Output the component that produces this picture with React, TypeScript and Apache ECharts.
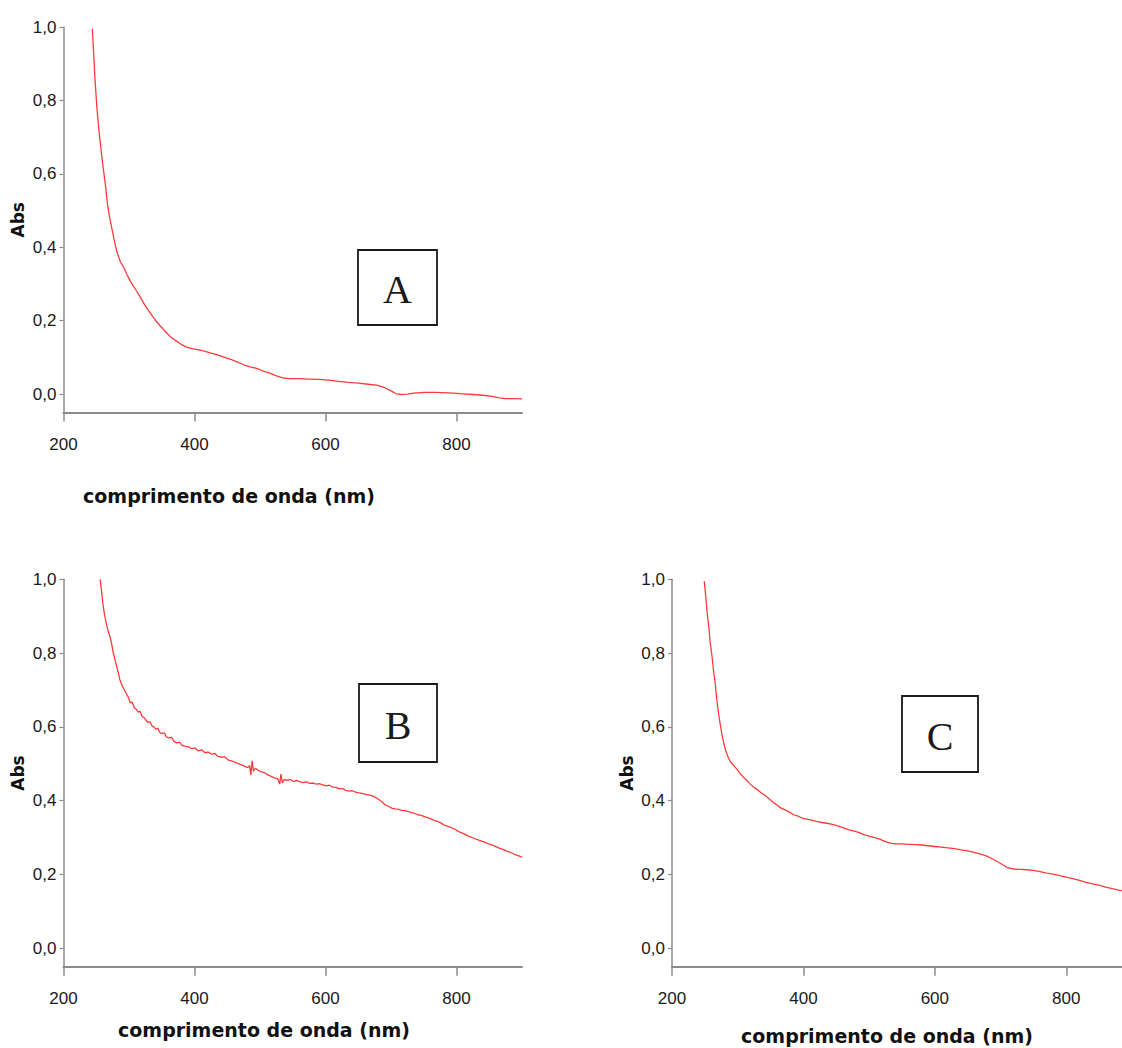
import React, { useEffect, useRef } from "react";
import * as echarts from "echarts";

// Panel A
const aWave = [244,246,248,251,254,257,260,264,267,270,274,278,282,287,292,297,303,310,317,324,332,340,348,356,364,372,380,388,396,405,415,425,435,445,455,465,475,485,495,505,515,525,535,545,560,575,590,605,620,635,650,665,680,690,700,708,716,725,735,750,765,780,795,810,825,840,855,865,875,890,900];
const aAbs = [0.995,0.93,0.86,0.78,0.72,0.67,0.625,0.57,0.52,0.485,0.45,0.415,0.385,0.36,0.345,0.325,0.305,0.285,0.265,0.243,0.222,0.202,0.185,0.17,0.155,0.145,0.135,0.128,0.124,0.121,0.117,0.112,0.107,0.101,0.095,0.088,0.08,0.074,0.07,0.063,0.057,0.05,0.044,0.042,0.042,0.041,0.04,0.038,0.035,0.032,0.03,0.027,0.024,0.018,0.009,0.001,-0.001,0.0,0.003,0.005,0.005,0.004,0.003,0.001,-0.001,-0.003,-0.006,-0.01,-0.012,-0.012,-0.013];

// Panel B
const bWave = [256,258,260,263,266,268,271,273,276,279,281,284,286,290,293,296,299,302,305,308,311,314,317,320,323,326,329,332,335,338,341,344,347,350,354,357,361,365,369,373,377,381,386,391,396,401,406,411,416,421,426,431,436,441,446,451,456,461,466,471,476,481,484,486,488,490,493,497,502,507,512,517,522,527,530,532,534,537,541,546,551,556,561,566,571,576,581,586,591,596,601,606,611,616,621,626,631,636,641,646,651,656,661,666,671,676,681,686,691,696,701,706,711,716,721,726,731,736,741,746,751,756,761,766,771,776,781,786,791,796,801,806,811,816,821,826,831,836,841,846,851,856,861,866,871,876,881,886,891,896,900];
const bAbs = [1.0,0.97,0.935,0.9,0.875,0.86,0.845,0.83,0.8,0.78,0.765,0.745,0.728,0.71,0.7,0.69,0.68,0.665,0.667,0.652,0.648,0.64,0.642,0.628,0.625,0.618,0.612,0.614,0.603,0.6,0.594,0.596,0.585,0.582,0.584,0.573,0.57,0.572,0.56,0.557,0.559,0.55,0.547,0.546,0.541,0.543,0.535,0.538,0.53,0.532,0.526,0.528,0.52,0.518,0.519,0.511,0.508,0.505,0.501,0.498,0.494,0.49,0.495,0.47,0.508,0.48,0.488,0.483,0.478,0.476,0.47,0.466,0.462,0.46,0.445,0.472,0.448,0.458,0.455,0.458,0.452,0.455,0.451,0.449,0.451,0.447,0.448,0.445,0.446,0.443,0.44,0.442,0.437,0.436,0.432,0.433,0.428,0.426,0.427,0.423,0.421,0.42,0.417,0.416,0.414,0.409,0.404,0.397,0.389,0.385,0.38,0.378,0.377,0.374,0.373,0.371,0.368,0.366,0.362,0.36,0.357,0.354,0.351,0.347,0.344,0.34,0.334,0.331,0.328,0.324,0.319,0.314,0.311,0.306,0.302,0.299,0.295,0.292,0.289,0.285,0.282,0.279,0.275,0.271,0.268,0.264,0.261,0.257,0.253,0.25,0.247];

// Panel C
const cWave = [249,251,253,256,258,261,263,266,268,271,274,277,281,285,289,294,299,304,309,314,319,324,330,336,342,348,354,360,366,372,378,385,392,399,406,413,420,428,436,444,452,460,468,476,484,492,500,508,516,524,532,540,550,560,570,580,590,600,610,620,630,640,650,660,670,680,690,700,710,720,730,740,750,760,770,780,790,800,810,820,830,840,850,860,870,880,890,900];
const cAbs = [0.995,0.96,0.92,0.87,0.83,0.79,0.755,0.715,0.675,0.635,0.6,0.57,0.54,0.52,0.505,0.495,0.485,0.473,0.463,0.455,0.445,0.437,0.43,0.421,0.414,0.405,0.395,0.388,0.38,0.375,0.37,0.362,0.358,0.352,0.35,0.347,0.344,0.341,0.339,0.336,0.332,0.327,0.322,0.318,0.314,0.308,0.304,0.3,0.296,0.29,0.285,0.283,0.283,0.282,0.281,0.28,0.278,0.276,0.274,0.272,0.27,0.267,0.264,0.26,0.255,0.249,0.24,0.23,0.219,0.215,0.214,0.213,0.211,0.208,0.204,0.201,0.197,0.193,0.189,0.184,0.179,0.175,0.171,0.166,0.162,0.158,0.155,0.152];

const xTicks = [200, 400, 600, 800];
const yTicks = [0, 0.2, 0.4, 0.6, 0.8, 1.0];
const panelLetters = ["A", "B", "C"];
const xTitle = "comprimento de onda (nm)";
const yTitle = "Abs";

const TICK_FONT = "'Liberation Sans', Arial, sans-serif";
const AXIS_GRAY = "#8c8c8c";

const grids = [
  { left: 63.5, top: 27, width: 458.5, height: 385.5 },
  { left: 63.5, top: 579.3, width: 458.5, height: 387.5 },
  { left: 672, top: 579.3, width: 460, height: 387.5 },
];

const boxes = [
  { x: 358, y: 250, w: 79, h: 75 },
  { x: 359, y: 684, w: 78, h: 78 },
  { x: 902, y: 696, w: 76, h: 76 },
];

const xTitlePos = [
  { x: 229, y: 496 },
  { x: 264, y: 1030 },
  { x: 887, y: 1036 },
];

function pairs(xs: number[], ys: number[]) {
  return xs.map((x, i) => [x, ys[i]]);
}

export default function App() {
  const ref = useRef<HTMLDivElement>(null);
  useEffect(() => {
    if (!ref.current) return;
    const chart = echarts.init(ref.current, null, { renderer: "svg" });
    const data = [pairs(aWave, aAbs), pairs(bWave, bAbs), pairs(cWave, cAbs)];
    const fmt = (v: number) => v.toFixed(1).replace(".", ",");
    const option: any = {
      animation: false,
      backgroundColor: "#ffffff",
      grid: grids.map((g) => ({ ...g, containLabel: false, outerBoundsMode: "none" })),
      xAxis: grids.map((_, i) => ({
        type: "value",
        gridIndex: i,
        min: 200,
        max: 900,
        splitLine: { show: false },
        axisLine: { show: true, onZero: false, lineStyle: { color: AXIS_GRAY, width: 2 } },
        axisTick: { show: true, length: 9, customValues: xTicks, lineStyle: { color: AXIS_GRAY, width: 1.5 } },
        axisLabel: {
          customValues: xTicks,
          margin: 23,
          fontFamily: TICK_FONT,
          fontSize: 17,
          color: "#1a1a1a",
        },
      })),
      yAxis: grids.map((_, i) => ({
        type: "value",
        gridIndex: i,
        min: -0.05,
        max: 1.0,
        name: yTitle,
        nameLocation: "middle",
        nameRotate: 90,
        nameGap: 37,
        nameTextStyle: { fontFamily: "'DejaVu Sans', sans-serif", fontWeight: "bold", fontSize: 17, color: "#111" },
        splitLine: { show: false },
        axisLine: { show: true, onZero: false, lineStyle: { color: AXIS_GRAY, width: 1.5 } },
        axisTick: { show: true, length: 4, customValues: yTicks, lineStyle: { color: AXIS_GRAY, width: 1.2 } },
        axisLabel: {
          customValues: yTicks,
          margin: 7,
          fontFamily: TICK_FONT,
          fontSize: 17,
          color: "#1a1a1a",
          formatter: (v: number) => fmt(v),
        },
      })),
      series: data.map((d, i) => ({
        type: "line",
        xAxisIndex: i,
        yAxisIndex: i,
        data: d,
        showSymbol: false,
        symbol: "none",
        lineStyle: { color: "#ff3a3a", width: 1.3 },
        silent: true,
      })),
      graphic: [
        ...boxes.map((b, i) => ({
          type: "group",
          children: [
            {
              type: "rect",
              shape: { x: b.x, y: b.y, width: b.w, height: b.h },
              style: { fill: "#ffffff", stroke: "#1a1a1a", lineWidth: 1.8 },
            },
            {
              type: "text",
              x: b.x + b.w / 2,
              y: b.y + b.h / 2 + 2,
              style: {
                text: panelLetters[i],
                fontFamily: "'Liberation Serif', 'DejaVu Serif', serif",
                fontSize: 40,
                fill: "#1a1a1a",
                textAlign: "center",
                textVerticalAlign: "middle",
              },
            },
          ],
        })),
        ...xTitlePos.map((p) => ({
          type: "text",
          x: p.x,
          y: p.y,
          style: {
            text: xTitle,
            fontFamily: "'DejaVu Sans', sans-serif",
            fontWeight: "bold",
            fontSize: 19,
            fill: "#111",
            textAlign: "center",
            textVerticalAlign: "middle",
          },
        })),
      ],
    };
    chart.setOption(option);
    return () => chart.dispose();
  }, []);
  return (
    <div
      ref={ref}
      style={{ position: "absolute", left: 0, top: 0, width: 1122, height: 1048, overflow: "hidden" }}
    />
  );
}
